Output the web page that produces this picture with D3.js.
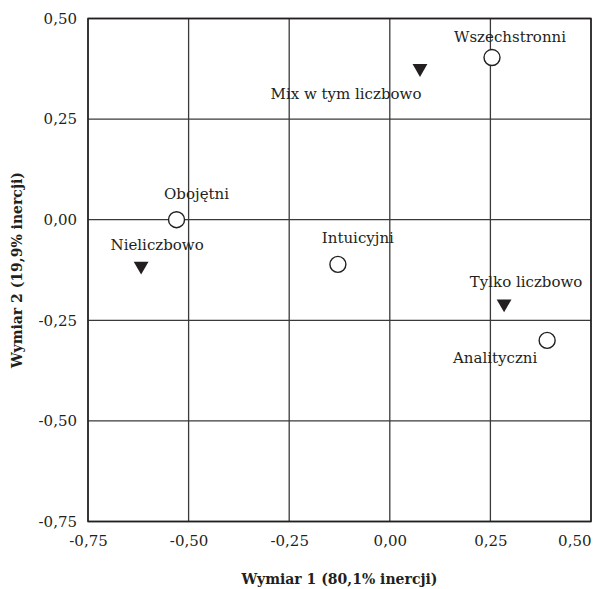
<!DOCTYPE html>
<html>
<head>
<meta charset="utf-8">
<script src="https://cdn.jsdelivr.net/npm/d3@7"></script>
<style>
  body { margin: 0; background: #fff; }
  svg text { font-family: "DejaVu Serif", "Liberation Serif", serif !important; fill: #231f20; }
</style>
</head>
<body>
<div id="chart"></div>
<script>
// data
var names = ["Wszechstronni", "Mix w tym liczbowo", "Obojętni", "Nieliczbowo", "Intuicyjni", "Tylko liczbowo", "Analityczni"];
var dim1 = [0.254, 0.075, -0.530, -0.618, -0.129, 0.284, 0.391];
var dim2 = [0.403, 0.376, 0.000, -0.115, -0.111, -0.209, -0.300];
var kinds = ["circle", "triangle", "circle", "triangle", "circle", "triangle", "circle"];
var ticks = [-0.75, -0.50, -0.25, 0.00, 0.25, 0.50];
var xTitle = "Wymiar 1 (80,1% inercji)";
var yTitle = "Wymiar 2 (19,9% inercji)";

// label placement relative to marker (dx, dy)
var labelOffsets = [[18, -16], [-74, 31], [20, -21], [16, -16], [20, -21], [22, -17], [-52, 23]];

var W = 604, H = 589;
var margin = {top: 18.5, right: 13, bottom: 67.5, left: 88},
    width = W - margin.left - margin.right,
    height = H - margin.top - margin.bottom;

var fmt = function(d) { return d3.format(".2f")(d).replace(".", ",").replace("−", "-"); };

var x = d3.scaleLinear().domain([-0.75, 0.5]).range([0, width]),
    y = d3.scaleLinear().domain([-0.75, 0.5]).range([height, 0]);

var svg = d3.select("#chart").append("svg")
    .attr("width", W)
    .attr("height", H);

var g = svg.append("g")
    .attr("transform", "translate(" + margin.left + "," + margin.top + ")");

// grid
g.selectAll(".vgrid").data(ticks).enter().append("line")
    .attr("x1", function(d) { return x(d); }).attr("x2", function(d) { return x(d); })
    .attr("y1", 0).attr("y2", height)
    .attr("stroke", "#3a3a3a").attr("stroke-width", 1.3);

g.selectAll(".hgrid").data(ticks).enter().append("line")
    .attr("y1", function(d) { return y(d); }).attr("y2", function(d) { return y(d); })
    .attr("x1", 0).attr("x2", width)
    .attr("stroke", "#3a3a3a").attr("stroke-width", 1.3);

g.append("rect")
    .attr("width", width).attr("height", height)
    .attr("fill", "none").attr("stroke", "#231f20").attr("stroke-width", 1.5);

// axes (labels only)
var xAxis = d3.axisBottom(x).tickValues(ticks).tickFormat(fmt).tickSize(0).tickPadding(14);
var yAxis = d3.axisLeft(y).tickValues(ticks).tickFormat(fmt).tickSize(0).tickPadding(11);

var gx = g.append("g").attr("transform", "translate(0," + height + ")").call(xAxis);
var gy = g.append("g").call(yAxis);
[gx, gy].forEach(function(a) {
    a.attr("font-family", null).attr("font-size", null);
    a.select(".domain").remove();
    a.selectAll("text").style("font-size", "15px");
});
gx.selectAll(".tick").filter(function(d) { return d === 0.5; }).select("text")
    .attr("text-anchor", "end").attr("x", 0);

// titles
svg.append("text")
    .attr("x", margin.left + width / 2).attr("y", 584)
    .attr("text-anchor", "middle")
    .style("font-size", "14px").style("font-weight", "bold")
    .text(xTitle);

svg.append("text")
    .attr("transform", "translate(22," + (margin.top + height / 2) + ") rotate(-90)")
    .attr("text-anchor", "middle")
    .style("font-size", "14px").style("font-weight", "bold")
    .text(yTitle);

// points
var pts = names.map(function(n, i) { return {name: n, x: dim1[i], y: dim2[i], kind: kinds[i], off: labelOffsets[i]}; });

g.selectAll(".pt-c").data(pts.filter(function(d) { return d.kind === "circle"; })).enter().append("circle")
    .attr("cx", function(d) { return x(d.x); })
    .attr("cy", function(d) { return y(d.y); })
    .attr("r", 8)
    .attr("fill", "#fff").attr("stroke", "#231f20").attr("stroke-width", 1.4);

var tri = d3.symbol().type(d3.symbolTriangle).size(95);
g.selectAll(".pt-t").data(pts.filter(function(d) { return d.kind === "triangle"; })).enter().append("path")
    .attr("d", tri)
    .attr("transform", function(d) { return "translate(" + x(d.x) + "," + y(d.y) + ") rotate(180)"; })
    .attr("fill", "#231f20");

g.selectAll(".lbl").data(pts).enter().append("text")
    .attr("x", function(d) { return x(d.x) + d.off[0]; })
    .attr("y", function(d) { return y(d.y) + d.off[1]; })
    .attr("text-anchor", "middle")
    .style("font-size", "15px")
    .text(function(d) { return d.name; });
</script>
</body>
</html>
